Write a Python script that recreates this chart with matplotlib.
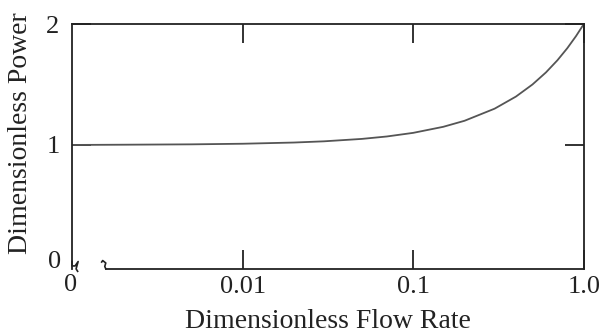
import numpy as np
import matplotlib.pyplot as plt

plt.rcParams['font.family'] = ['Liberation Serif', 'DejaVu Serif']

# Values
flow_rate = [0.001, 0.002, 0.005, 0.01, 0.02, 0.03, 0.05, 0.07, 0.1, 0.15,
             0.2, 0.3, 0.4, 0.5, 0.6, 0.7, 0.8, 0.9, 1.0]
power = [1.0, 1.002, 1.005, 1.01, 1.02, 1.03, 1.05, 1.07, 1.1, 1.15,
         1.2, 1.3, 1.4, 1.5, 1.6, 1.7, 1.8, 1.9, 2.0]

x_ticks = [0.01, 0.1, 1.0]
x_labels = ['0.01', '0.1', '1.0']
y_ticks = [1, 2]
y_labels = ['1', '2']

fig = plt.figure(figsize=(6.0, 3.34), dpi=100)
ax = fig.add_axes([0.12, 0.195, 0.853, 0.733])

ax.plot(flow_rate, power, color='#555555', lw=1.3)

ax.set_xscale('log')
ax.set_xlim(0.001, 1.0)
ax.set_ylim(-0.025, 2.0)
ax.minorticks_off()

ax.set_xticks(x_ticks)
ax.set_xticklabels(x_labels)
ax.set_yticks(y_ticks)
ax.set_yticklabels(y_labels)
ax.tick_params(direction='in', length=14, width=1.3, labelsize=19, pad=5,
               top=True, right=True, colors='#222222')
ax.tick_params(axis='y', pad=9)

for side in ['top', 'right', 'left']:
    ax.spines[side].set_linewidth(1.3)
    ax.spines[side].set_color('#222222')
ax.spines['bottom'].set_visible(False)

# zero labels for the broken origin
tr = ax.transAxes
ax.text(-0.022, 0.03, '0', transform=tr, fontsize=19, ha='right', va='center',
        color='#222222')
ax.text(-0.003, -0.065, '0', transform=tr, fontsize=19, ha='center', va='center',
        color='#222222')

# broken bottom axis with squiggle marks
ax.plot([0.066, 1.0], [0, 0], transform=tr, color='#222222', lw=1.3, clip_on=False)
ax.plot([0.058, 0.060, 0.066, 0.064, 0.066], [0.028, 0.034, 0.024, 0.01, 0.0],
        transform=tr, color='#222222', lw=1.2, clip_on=False)
ax.plot([0.0, 0.0, 0.006, 0.012, 0.008, 0.011], [0.03, 0.012, 0.012, 0.03, 0.0, -0.01],
        transform=tr, color='#222222', lw=1.2, clip_on=False)

ax.set_xlabel('Dimensionless Flow Rate', fontsize=20, labelpad=8, color='#222222')
fig.text(0.035, 0.6, 'Dimensionless Power', rotation=90, fontsize=20,
         ha='center', va='center', color='#222222')

fig.savefig('out.png', dpi=100)
